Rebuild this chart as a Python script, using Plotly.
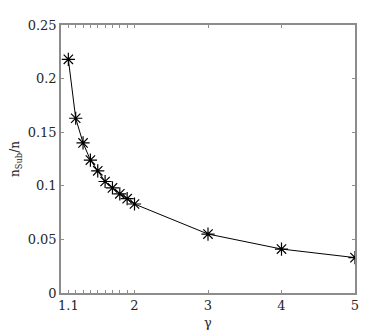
import plotly.graph_objects as go

# gamma values and the fraction n_Sub/n
gamma = [1.1, 1.2, 1.3, 1.4, 1.5, 1.6, 1.7, 1.8, 1.9, 2, 3, 4, 5]
ratio = [0.218, 0.163, 0.140, 0.124, 0.114, 0.104, 0.098, 0.0925, 0.088, 0.083,
         0.055, 0.041, 0.033]

x_tick_vals = [1.1, 2, 3, 4, 5]
x_tick_text = ["1.1", "2", "3", "4", "5"]
x_minor_vals = [1.2, 1.3, 1.4, 1.5, 1.6, 1.7, 1.8, 1.9]
y_tick_vals = [0, 0.05, 0.1, 0.15, 0.2, 0.25]
y_tick_text = ["0", "0.05", "0.1", "0.15", "0.2", "0.25"]

axis_color = "#8c8c8c"
text_color = "#262626"
font_family = "DejaVu Serif"

fig = go.Figure()
fig.add_trace(
    go.Scatter(
        x=gamma,
        y=ratio,
        mode="lines+markers",
        line=dict(color="black", width=1),
        marker=dict(symbol="asterisk-open", size=11, color="black",
                    line=dict(color="black", width=1.2)),
        showlegend=False,
    )
)

common = dict(
    showline=True,
    linecolor=axis_color,
    linewidth=1.5,
    mirror="ticks",
    ticks="inside",
    ticklen=3,
    tickcolor=axis_color,
    showgrid=False,
    zeroline=False,
    automargin=False,
    tickfont=dict(family=font_family, size=13, color=text_color),
)

# the page body keeps its default 8px margin, so the figure is 8px smaller
fig.update_layout(
    width=384,
    height=328,
    margin=dict(l=53, r=37, t=17, b=43),
    paper_bgcolor="white",
    plot_bgcolor="white",
    font=dict(family=font_family, size=13, color=text_color),
    xaxis=dict(
        range=[1, 5],
        tickmode="array",
        tickvals=x_tick_vals,
        ticktext=x_tick_text,
        minor=dict(tickmode="array", tickvals=x_minor_vals, ticks="inside",
                   ticklen=3, tickcolor=axis_color, showgrid=False),
        title=dict(text="γ", standoff=6,
                   font=dict(family=font_family, size=13, color=text_color)),
        **common,
    ),
    yaxis=dict(
        range=[0, 0.25],
        tickmode="array",
        tickvals=y_tick_vals,
        ticktext=y_tick_text,
        title=dict(text="n<sub>Sub</sub>/n", standoff=8,
                   font=dict(family=font_family, size=12, color=text_color)),
        **common,
    ),
)

fig.write_html("out.html")
